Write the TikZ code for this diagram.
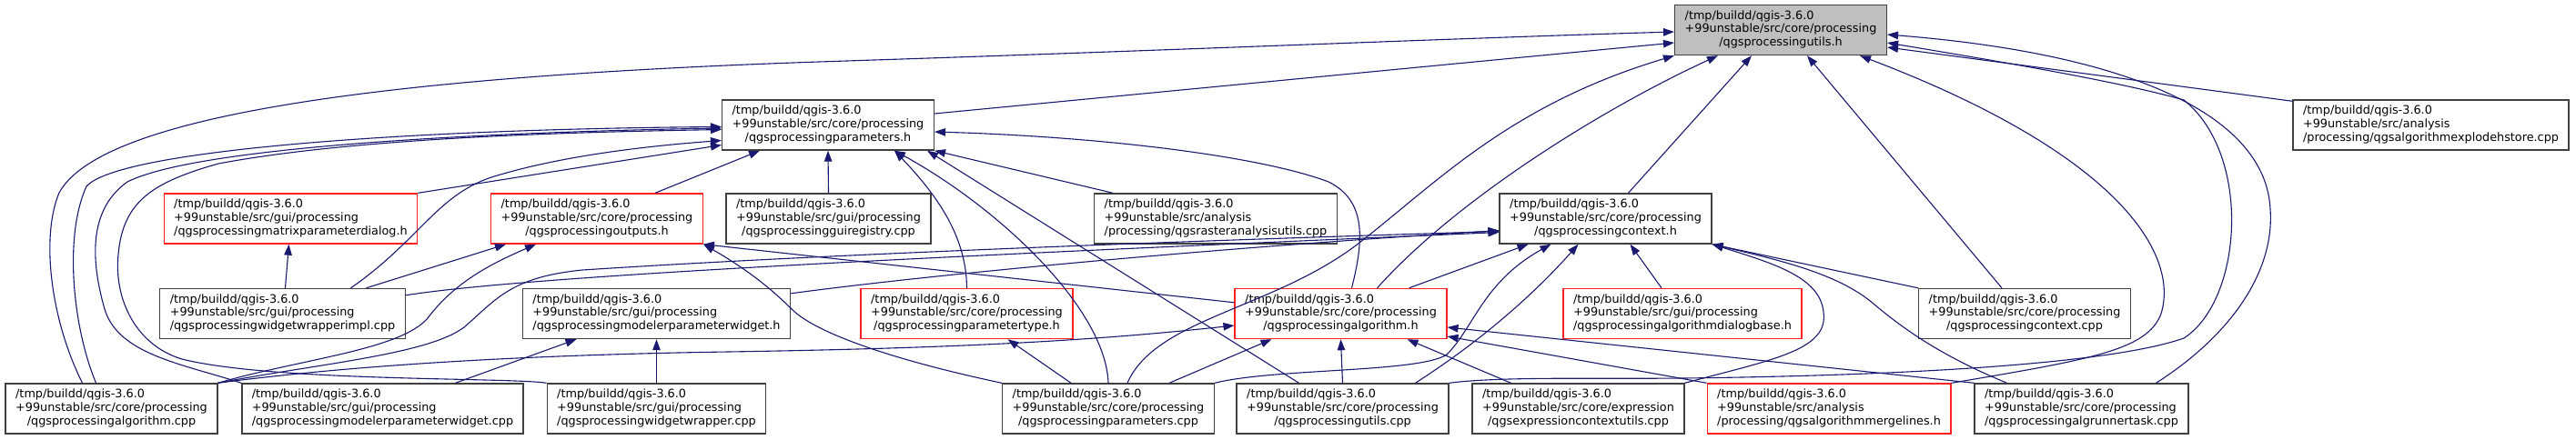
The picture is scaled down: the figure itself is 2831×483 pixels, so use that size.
\documentclass[tikz,border=0pt]{standalone}
\usepackage{fontspec}
\setmainfont{DejaVu Sans}
\usetikzlibrary{arrows.meta,calc}
\definecolor{edgeblue}{HTML}{191970}
\definecolor{rootgray}{HTML}{BFBFBF}
\definecolor{trunc}{HTML}{FF2020}
\definecolor{boxline}{HTML}{404040}
\newcommand\flabel[2]{\begin{tabular}{@{}l@{}}/tmp/buildd/qgis-3.6.0\\+99unstable/src/#1\\\multicolumn{1}{@{}c@{}}{#2}\end{tabular}}
\tikzset{
  file/.style={draw=boxline, line width=1.4pt, fill=white, inner xsep=11pt, inner ysep=0pt,
    minimum height=55pt, font=\fontsize{12.8}{14.7}\selectfont},
  cut/.style={file, draw=trunc},
  root/.style={file, fill=rootgray},
  dep/.style={draw=edgeblue, line width=1.1pt, -{Triangle[length=12pt,width=8.5pt]}},
}
\begin{document}
\begin{tikzpicture}[x=1pt,y=-1pt]
\fill[white] (0,0) rectangle (2831,483);
\useasboundingbox (0,0) rectangle (2831,483);
% nodes
\node[root] (utils) at (1957,33) {\flabel{core/processing}{/qgsprocessingutils.h}};
\node[file] (explode) at (2671.5,137.5) {\flabel{analysis}{/processing/qgsalgorithmexplodehstore.cpp}};
\node[file] (params) at (910,137.5) {\flabel{core/processing}{/qgsprocessingparameters.h}};
\node[cut] (matrix) at (319.5,240.5) {\flabel{gui/processing}{/qgsprocessingmatrixparameterdialog.h}};
\node[cut] (outputs) at (656,240.5) {\flabel{core/processing}{/qgsprocessingoutputs.h}};
\node[file] (guireg) at (910.5,240.5) {\flabel{gui/processing}{/qgsprocessingguiregistry.cpp}};
\node[file] (raster) at (1336,240.5) {\flabel{analysis}{/processing/qgsrasteranalysisutils.cpp}};
\node[file] (contexth) at (1764.5,240.5) {\flabel{core/processing}{/qgsprocessingcontext.h}};
\node[file] (wwimpl) at (310.5,345) {\flabel{gui/processing}{/qgsprocessingwidgetwrapperimpl.cpp}};
\node[file] (modelerh) at (721.5,345) {\flabel{gui/processing}{/qgsprocessingmodelerparameterwidget.h}};
\node[cut] (paramtype) at (1062.5,345) {\flabel{core/processing}{/qgsprocessingparametertype.h}};
\node[cut] (algh) at (1473.5,345) {\flabel{core/processing}{/qgsprocessingalgorithm.h}};
\node[cut] (dialogbase) at (1849,345) {\flabel{gui/processing}{/qgsprocessingalgorithmdialogbase.h}};
\node[file] (contextcpp) at (2225,345) {\flabel{core/processing}{/qgsprocessingcontext.cpp}};
\node[file] (algcpp) at (122.5,449.5) {\flabel{core/processing}{/qgsprocessingalgorithm.cpp}};
\node[file] (modelercpp) at (420.5,449.5) {\flabel{gui/processing}{/qgsprocessingmodelerparameterwidget.cpp}};
\node[file] (wwcpp) at (721.5,449.5) {\flabel{gui/processing}{/qgsprocessingwidgetwrapper.cpp}};
\node[file] (paramscpp) at (1218,449.5) {\flabel{core/processing}{/qgsprocessingparameters.cpp}};
\node[file] (utilscpp) at (1475.5,449.5) {\flabel{core/processing}{/qgsprocessingutils.cpp}};
\node[file] (exprctx) at (1734.5,449.5) {\flabel{core/expression}{/qgsexpressioncontextutils.cpp}};
\node[cut] (merge) at (2010,449.5) {\flabel{analysis}{/processing/qgsalgorithmmergelines.h}};
\node[file] (runner) at (2287.5,449.5) {\flabel{core/processing}{/qgsprocessingalgrunnertask.cpp}};
% edges into utils.h
\draw[dep] ($(params.east)+(0,-12.5)$) -- ($(utils.west)+(0,14)$);
\draw[dep] ($(algcpp.north)+(-32,0)$) .. controls (55,350) and (45,260) .. (65,212) .. controls (110,130) and (400,85) .. (900,68) .. controls (1300,55) and (1600,42) .. ($(utils.west)+(0,2)$);
\draw[dep] ($(paramscpp.north)+(21,0)$) .. controls (1270,350) and (1400,340) .. (1494,267) .. controls (1580,200) and (1660,115) .. (utils.south west);
\draw[dep] ($(algh.north)+(40,0)$) .. controls (1600,220) and (1760,120) .. ($(utils.south west)+(48,0)$);
\draw[dep] ($(contexth.north)+(25,0)$) -- ($(utils.south)+(-32,0)$);
\draw[dep] ($(contextcpp.north)+(-25,0)$) -- ($(utils.south)+(29,0)$);
\draw[dep] (merge.north east) .. controls (2300,395) and (2360,385) .. (2375,345) .. controls (2395,280) and (2330,170) .. ($(utils.south)+(87,0)$);
\draw[dep] (utilscpp.north east) .. controls (1650,414) and (1750,417) .. (1850,416) .. controls (2100,413) and (2320,400) .. (2400,372) .. controls (2465,330) and (2475,170) .. (2400,110) .. controls (2330,90) and (2200,68) .. ($(utils.east)+(0,14)$);
\draw[dep] ($(runner.north)+(82,0)$) .. controls (2450,370) and (2500,300) .. (2495,230) .. controls (2490,130) and (2350,60) .. ($(utils.east)+(0,5)$);
\draw[dep] ($(explode.north west)+(0,2)$) -- ($(utils.east)+(0,19)$);
% edges into parameters.h
\draw[dep] (matrix.north east) -- ($(params.west)+(0,22)$);
\draw[dep] ($(outputs.north)+(64,0)$) -- ($(params.south)+(-75,0)$);
\draw[dep] (guireg.north) -- (params.south);
\draw[dep] ($(raster.north)+(-113,0)$) -- (params.south east);
\draw[dep] (paramtype.north) .. controls (1062,260) and (1030,215) .. ($(params.south)+(73,0)$);
\draw[dep] (paramscpp.north) .. controls (1215,340) and (1100,230) .. ($(params.south)+(73,0)$);
\draw[dep] ($(utilscpp.north)+(-48,0)$) -- ($(params.south)+(109,0)$);
\draw[dep] ($(algh.north)+(12,0)$) .. controls (1500,260) and (1500,220) .. (1460,200) .. controls (1380,170) and (1200,150) .. ($(params.east)+(0,7.5)$);
\draw[dep] ($(wwimpl.north)+(75,0)$) .. controls (460,265) and (480,215) .. (540,195) .. controls (620,170) and (720,160) .. ($(params.west)+(0,17)$);
\draw[dep] ($(algcpp.north)+(-17,0)$) .. controls (80,360) and (70,260) .. (95,205) .. controls (130,165) and (450,142) .. ($(params.west)+(0,2)$);
\draw[dep] (modelercpp.north west) .. controls (200,400) and (130,390) .. (115,340) .. controls (95,270) and (105,225) .. (140,200) .. controls (220,160) and (550,145) .. ($(params.west)+(0,3.5)$);
\draw[dep] (wwcpp.north west) .. controls (560,415) and (300,420) .. (200,395) .. controls (150,380) and (125,330) .. (130,280) .. controls (135,220) and (170,200) .. (240,180) .. controls (400,150) and (650,145) .. ($(params.west)+(0,5)$);
% edges into context.h
\draw[dep] ($(algh.north)+(75,0)$) -- ($(contexth.south)+(-85,0)$);
\draw[dep] (paramscpp.north east) .. controls (1400,405) and (1560,410) .. (1590,390) .. controls (1620,360) and (1630,310) .. ($(contexth.south)+(-60,0)$);
\draw[dep] ($(utilscpp.north)+(80,0)$) .. controls (1620,380) and (1680,330) .. ($(contexth.south)+(-30,0)$);
\draw[dep] ($(dialogbase.north)+(-23,0)$) -- ($(contexth.south)+(27,0)$);
\draw[dep] (contextcpp.north west) -- (contexth.south east);
\draw[dep] (exprctx.north east) .. controls (1950,395) and (2010,385) .. (2004,343) .. controls (2000,305) and (1950,290) .. (contexth.south east);
\draw[dep] ($(runner.north)+(-82,0)$) .. controls (2130,390) and (2090,360) .. (2060,335) .. controls (2020,300) and (1950,285) .. (contexth.south east);
\draw[dep] ($(wwimpl.north east)+(0,8)$) .. controls (600,300) and (1200,275) .. ($(contexth.west)+(0,15)$);
\draw[dep] ($(modelerh.north east)+(0,6)$) .. controls (1000,305) and (1300,275) .. ($(contexth.west)+(0,13)$);
\draw[dep] (algcpp.north east) .. controls (350,400) and (470,390) .. (510,360) .. controls (545,330) and (560,305) .. (640,297) .. controls (900,280) and (1300,265) .. ($(contexth.west)+(0,14)$);
% edges into outputs.h
\draw[dep] ($(wwimpl.north)+(92,0)$) -- ($(outputs.south)+(-100,0)$);
\draw[dep] (algcpp.north east) .. controls (330,395) and (440,385) .. (470,350) .. controls (500,310) and (540,290) .. ($(outputs.south)+(-67,0)$);
\draw[dep] ($(algh.north west)+(0,16)$) -- (outputs.south east);
\draw[dep] (paramscpp.north west) .. controls (1000,400) and (900,370) .. (870,340) .. controls (840,310) and (810,290) .. (outputs.south east);
% other edges
\draw[dep] ($(wwimpl.north)+(3,0)$) -- ($(matrix.south)+(-2,0)$);
\draw[dep] ($(modelercpp.north)+(80,0)$) -- ($(modelerh.south)+(-88,0)$);
\draw[dep] (wwcpp.north) -- (modelerh.south);
\draw[dep] ($(paramscpp.north)+(-41,0)$) -- ($(paramtype.south)+(45,0)$);
% edges into algorithm.h
\draw[dep] (algcpp.north east) .. controls (400,400) and (600,390) .. (800,387) .. controls (1050,383) and (1200,375) .. ($(algh.west)+(0,13)$);
\draw[dep] ($(paramscpp.north)+(67,0)$) -- ($(algh.south)+(-76,0)$);
\draw[dep] (utilscpp.north) -- (algh.south);
\draw[dep] ($(exprctx.north)+(-74,0)$) -- ($(algh.south)+(73,0)$);
\draw[dep] (merge.north west) -- ($(algh.east)+(0,25)$);
\draw[dep] (runner.north west) -- ($(algh.east)+(0,15)$);
\end{tikzpicture}
\end{document}
